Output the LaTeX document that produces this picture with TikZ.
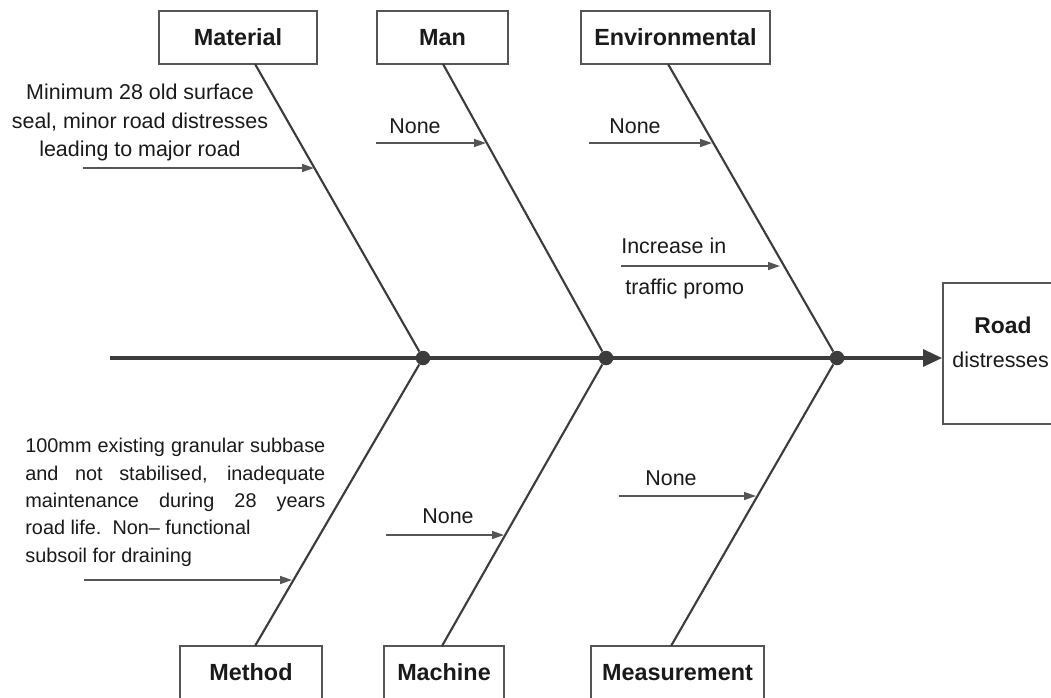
\documentclass[tikz,border=0pt]{standalone}
\usepackage{fontspec}
\setmainfont{Liberation Sans}
\usetikzlibrary{arrows.meta,positioning}
\definecolor{fb-line}{HTML}{3C3C3C}
\definecolor{fb-box}{HTML}{555555}
\definecolor{fb-text}{HTML}{1A1A1A}

\tikzset{
  catbox/.style={draw=fb-box, line width=1.1pt, minimum height=1.06cm, inner sep=0pt,
    text=fb-text, font=\fontsize{13.3}{16}\selectfont\bfseries},
  bone/.style={draw=fb-line, line width=1.2pt},
  spine/.style={draw=fb-line, line width=1.8pt, -{Triangle[length=0.38cm,width=0.34cm]}},
  cause/.style={draw=fb-box, line width=0.85pt, -{Triangle[length=0.24cm,width=0.16cm]}},
  joint/.style={circle, fill=fb-line, inner sep=0pt, minimum size=0.29cm},
  note/.style={inner sep=0pt, text=fb-text, font=\fontsize{12.2}{16.2}\selectfont},
}

\begin{document}
\begin{tikzpicture}[x=0.02cm, y=-0.02cm]
    \path[fill=white, use as bounding box] (0,0) rectangle (1051,697);

    \node[catbox, minimum width=3.16cm] (material) at (238,37.5) {Material};
    \node[catbox, minimum width=2.62cm] (man) at (442.5,37.5) {Man};
    \node[catbox, minimum width=3.78cm] (environ) at (675.5,37.5) {Environmental};
    \node[catbox, minimum width=2.84cm] (method) at (251,672.5) {Method};
    \node[catbox, minimum width=2.4cm] (machine) at (444,672.5) {Machine};
    \node[catbox, minimum width=3.46cm] (measure) at (677.5,672.5) {Measurement};
    \node[draw=fb-box, line width=1.1pt, minimum width=2.32cm, minimum height=2.82cm] (effect) at (1001,353.5) {};

    \node[joint] (j1) at (423,358) {};
    \node[joint] (j2) at (606,358) {};
    \node[joint] (j3) at (837,358) {};
    \coordinate (tail) at (110,358);
    \draw[spine] (tail) -- (tail -| effect.west);

    \coordinate (mat-top) at (255,64);
    \coordinate (man-top) at (443,64);
    \coordinate (env-top) at (668,64);
    \coordinate (met-top) at (255,646);
    \coordinate (mac-top) at (442,646);
    \coordinate (mea-top) at (671,646);
    \draw[bone] (mat-top) -- (j1);
    \draw[bone] (man-top) -- (j2);
    \draw[bone] (env-top) -- (j3);
    \draw[bone] (met-top) -- (j1);
    \draw[bone] (mac-top) -- (j2);
    \draw[bone] (mea-top) -- (j3);

    \coordinate (mat-in) at (83,168);  \coordinate (mat-hit) at (314,168);
    \coordinate (man-in) at (376,143); \coordinate (man-hit) at (486,143);
    \coordinate (env-in) at (589,143); \coordinate (env-hit) at (712,143);
    \coordinate (inc-in) at (621,266); \coordinate (inc-hit) at (780,266);
    \coordinate (met-in) at (84,580);  \coordinate (met-hit) at (292,580);
    \coordinate (mac-in) at (386,535); \coordinate (mac-hit) at (504,535);
    \coordinate (mea-in) at (619,496); \coordinate (mea-hit) at (756,496);
    \draw[cause] (mat-in) -- (mat-hit);
    \draw[cause] (man-in) -- (man-hit);
    \draw[cause] (env-in) -- (env-hit);
    \draw[cause] (inc-in) -- (inc-hit);
    \draw[cause] (met-in) -- (met-hit);
    \draw[cause] (mac-in) -- (mac-hit);
    \draw[cause] (mea-in) -- (mea-hit);

    \node[note, align=center, anchor=north] (mat-note) at (140,84)
        {Minimum 28 old surface\\seal, minor road distresses\\leading to major road};
    \node[note, anchor=base] (man-note) at (415,133) {None};
    \node[note, anchor=base] (env-note) at (635,133) {None};
    \node[note, anchor=base west] (inc-note) at (621,253) {Increase in};
    \node[note, anchor=base west] (inc-note2) at (625,294) {traffic promo};
    \node[note, anchor=base] (mac-note) at (448,523) {None};
    \node[note, anchor=base] (mea-note) at (671,485) {None};
    \node[note, anchor=north west, font=\fontsize{11.3}{15.6}\selectfont] (met-note) at (25,438)
        {\parbox[t]{6cm}{\tolerance=9999\hbadness=10000\relax
         100mm existing granular subbase\linebreak and not stabilised, inadequate\linebreak
         maintenance during 28 years\linebreak road life.\ \ Non– functional\newline
         subsoil for draining}};

    \node[note, font=\fontsize{13}{16}\selectfont\bfseries, anchor=base] (eff-l1) at (1003,333) {Road};
    \node[note, anchor=base west] (eff-l2) at (952,367) {distresses};
\end{tikzpicture}
\end{document}
